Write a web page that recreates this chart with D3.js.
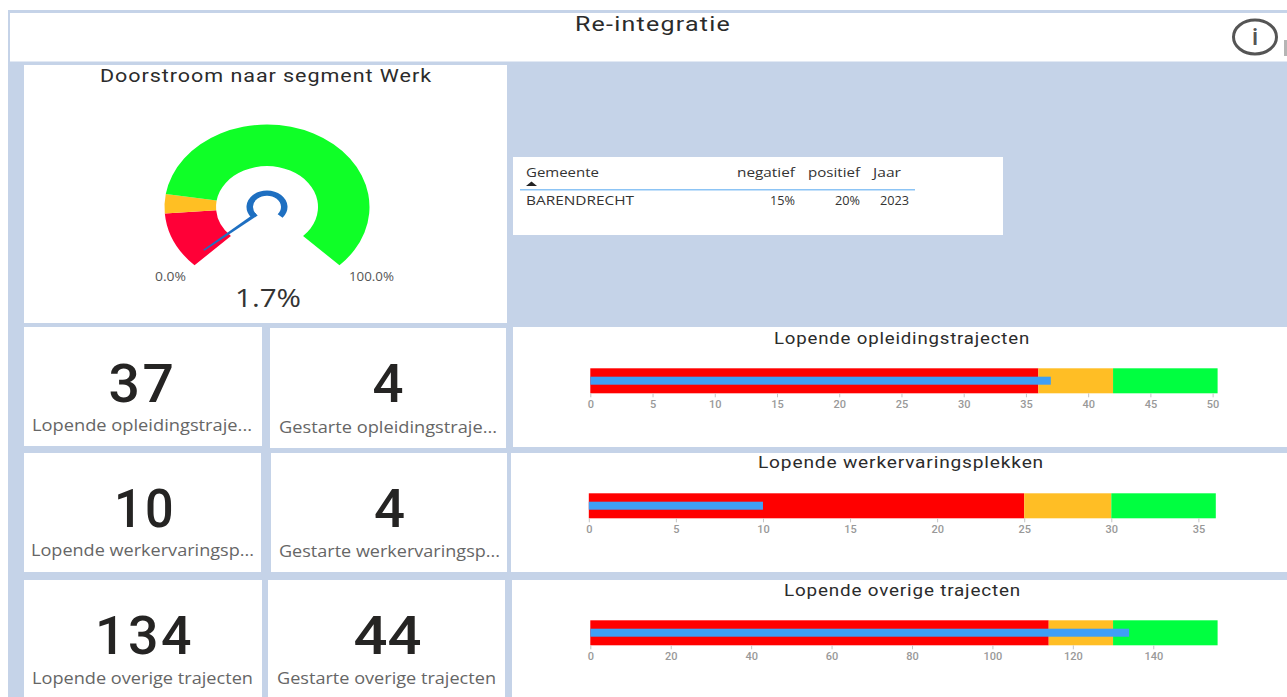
<!DOCTYPE html>
<html><head><meta charset="utf-8">
<script src="https://cdnjs.cloudflare.com/ajax/libs/d3/7.8.5/d3.min.js"></script>
<style>
html,body{margin:0;padding:0;background:#fff;overflow:hidden}
svg{display:block}
.din{font-family:Roboto,sans-serif}
.seg{font-family:"Open Sans",sans-serif}
</style></head><body>
<svg id="c" width="1287" height="697"></svg>
<script>
// ---- data ----
const pageTitle = "Re-integratie";
const gaugeTitle = "Doorstroom naar segment Werk";
const gaugeValue = 1.7;
const gaugeBands = [0, 15, 20, 100];
const gaugeBandColors = ["#ff0037", "#ffbf23", "#0fff27"];
const gaugeMinLabel = "0.0%";
const gaugeMaxLabel = "100.0%";
const gaugeValueLabel = "1.7%";

const tableHeaders = ["Gemeente", "negatief", "positief", "Jaar"];
const tableRow = ["BARENDRECHT", "15%", "20%", "2023"];

const kpiValuesLeft = ["37", "10", "134"];
const kpiLabelsLeft = ["Lopende opleidingstraje...", "Lopende werkervaringsp...", "Lopende overige trajecten"];
const kpiValuesRight = ["4", "4", "44"];
const kpiLabelsRight = ["Gestarte opleidingstraje...", "Gestarte werkervaringsp...", "Gestarte overige trajecten"];

const bulletTitles = ["Lopende opleidingstrajecten", "Lopende werkervaringsplekken", "Lopende overige trajecten"];
const bulletValues = [37, 10, 134];
const bulletRed = [36, 25, 114];
const bulletAmber = [42, 30, 130];
const bulletMax = [50.4, 36, 156];
const bulletTicks = [
  [0,5,10,15,20,25,30,35,40,45,50],
  [0,5,10,15,20,25,30,35],
  [0,20,40,60,80,100,120,140]
];

// ---- layout ----
const BG = "#c5d3e8";
const svg = d3.select("#c");
const rect = (x0,y0,x1,y1,fill) => svg.append("rect").attr("x",x0).attr("y",y0).attr("width",x1-x0).attr("height",y1-y0).attr("fill",fill);
const text = (x,y,s,cls,size,fill,anchor="middle",len=null,weight=400,ls=0) => {
  const t = svg.append("text").attr("x",x).attr("y",y).attr("class",cls)
    .attr("font-size",size).attr("fill",fill).attr("text-anchor",anchor).attr("font-weight",weight).attr("letter-spacing",ls).text(s);
  if (len) t.attr("textLength",len).attr("lengthAdjust","spacingAndGlyphs");
  return t;
};

rect(8,10,1287,697,BG);
rect(10,13,1287,61.5,"#fff");
text(653,31,pageTitle,"din",20,"#2b2b2b","middle",156,400,1);

// info icon
svg.append("ellipse").attr("cx",1255).attr("cy",37).attr("rx",21.5).attr("ry",17).attr("fill","none").attr("stroke","#555").attr("stroke-width",3);
text(1255,45,"i","din",24,"#555","middle",null,500);
rect(1284,40,1287,56,"#b5b5b5");

// panels
rect(24,65,507,323,"#fff");
rect(513,157,1003,235,"#fff");
const kpiRows = [
  {l:[24,327,262,446], r:[270,328,506,448], c:[513,327,1287,447], num:402, lab:431, labR:433},
  {l:[24,453,261,572], r:[271,453,507,572], c:[511,453,1287,572], num:527, lab:556, labR:557},
  {l:[24,580,262,697], r:[268,580,505,697], c:[512,580,1287,697], num:654, lab:684, labR:684}
];
const numCenterL = [142.5,145,144.5], numCenterR = [388,389.5,387.5];
const numWidthL = [68,62,99], numWidthR = [31,31,68];
const labCenterL = [142,142.5,142.5], labCenterR = [388,389.5,386.5];
const labWidthL = [220,223,221], labWidthR = [218,221,219];
kpiRows.forEach((p,i)=>{
  rect(...p.l,"#fff"); rect(...p.r,"#fff"); rect(...p.c,"#fff");
  text(numCenterL[i],p.num,kpiValuesLeft[i],"din",53,"#252423","middle",numWidthL[i],500,2.5);
  text(numCenterR[i],p.num,kpiValuesRight[i],"din",53,"#252423","middle",numWidthR[i],500,0);
  text(labCenterL[i],p.lab,kpiLabelsLeft[i],"seg",15.5,"#666","middle",labWidthL[i]);
  text(labCenterR[i],p.labR,kpiLabelsRight[i],"seg",15.5,"#666","middle",labWidthR[i]);
});

// gauge
text(266,82,gaugeTitle,"din",18,"#2b2b2b","middle",332,400,0.8);
const R = 102.5, Ri = 51;
const ang = d3.scaleLinear().domain([0,100]).range([-135*Math.PI/180,135*Math.PI/180]);
const g = svg.append("g").attr("transform","translate(267,207) scale(1,0.804)");
const arc = d3.arc().innerRadius(Ri).outerRadius(R);
g.selectAll("path.band").data(gaugeBandColors).join("path").attr("class","band")
  .attr("d",(d,i)=>arc({startAngle:ang(gaugeBands[i]),endAngle:ang(gaugeBands[i+1])}))
  .attr("fill",d=>d);
const na = ang(gaugeValue);
const ring = d3.arc().innerRadius(14).outerRadius(20.5);
g.append("path").attr("d",ring({startAngle:na,endAngle:-na})).attr("fill","#1e6fc1");
const pol = (r,a) => [r*Math.sin(a), -r*Math.cos(a)];
g.append("path").attr("fill","#1e6fc1").attr("d",d3.line()([
  pol(14,na-0.14), pol(14,na+0.14), pol(83,na+0.012), pol(83,na-0.012)
])+"Z");
text(170.5,281,gaugeMinLabel,"seg",12,"#555","middle",31);
text(371.5,281,gaugeMaxLabel,"seg",12,"#555","middle",45);
text(268,307,gaugeValueLabel,"seg",25.5,"#333","middle",66);

// table
const hy = 177, ry = 205;
text(526,hy,tableHeaders[0],"seg",12.5,"#333","start",73);
text(795,hy,tableHeaders[1],"seg",12.5,"#333","end",58);
text(860,hy,tableHeaders[2],"seg",12.5,"#333","end",52);
text(873,hy,tableHeaders[3],"seg",12.5,"#333","start",28);
text(526,ry,tableRow[0],"seg",12.5,"#333","start",108);
text(795,ry,tableRow[1],"seg",12.5,"#333","end",25);
text(860,ry,tableRow[2],"seg",12.5,"#333","end",25);
text(909,ry,tableRow[3],"seg",12.5,"#333","end",29);
svg.append("path").attr("d",d3.line()([[526,186],[537,186],[531.5,181.5]])+"Z").attr("fill","#222");
rect(520,189,915,190.5,"#8cc4f5");

// bullets
const bulletGeom = [
  {x0:590.3,x1:1217.6,y:368.3,t:344,tx:902,tw:256},
  {x0:588.8,x1:1215.8,y:493.3,t:468,tx:901,tw:286},
  {x0:590.3,x1:1217.6,y:620.3,t:596,tx:902.5,tw:237}
];
const bandH = 25, barTop = 8.4, barH = 8;
bulletTitles.forEach((title,i)=>{
  const q = bulletGeom[i];
  const x = d3.scaleLinear().domain([0,bulletMax[i]]).range([q.x0,q.x1]);
  text(q.tx,q.t,title,"din",16,"#2b2b2b","middle",q.tw,400,0.7);
  const b = svg.append("g");
  const bands = [[0,bulletRed[i],"#ff0000"],[bulletRed[i],bulletAmber[i],"#ffbe25"],[bulletAmber[i],bulletMax[i],"#00ff40"]];
  b.selectAll("rect").data(bands).join("rect")
    .attr("x",d=>x(d[0])).attr("width",d=>x(d[1])-x(d[0]))
    .attr("y",q.y).attr("height",bandH).attr("fill",d=>d[2]);
  svg.append("rect").attr("x",x(0)).attr("width",x(bulletValues[i])-x(0))
    .attr("y",q.y+barTop).attr("height",barH).attr("fill","#3f9ff5");
  const ax = svg.append("g").attr("transform",`translate(0,${q.y+bandH})`)
    .call(d3.axisBottom(x).tickValues(bulletTicks[i]).tickSize(4).tickPadding(3).tickFormat(d3.format("d")));
  ax.select(".domain").remove();
  ax.selectAll("line").attr("stroke","#c4c4c4");
  ax.selectAll("text").attr("fill","#999").attr("font-size",11).attr("font-family","Roboto,sans-serif").attr("font-weight",500);
});
</script>
</body></html>
